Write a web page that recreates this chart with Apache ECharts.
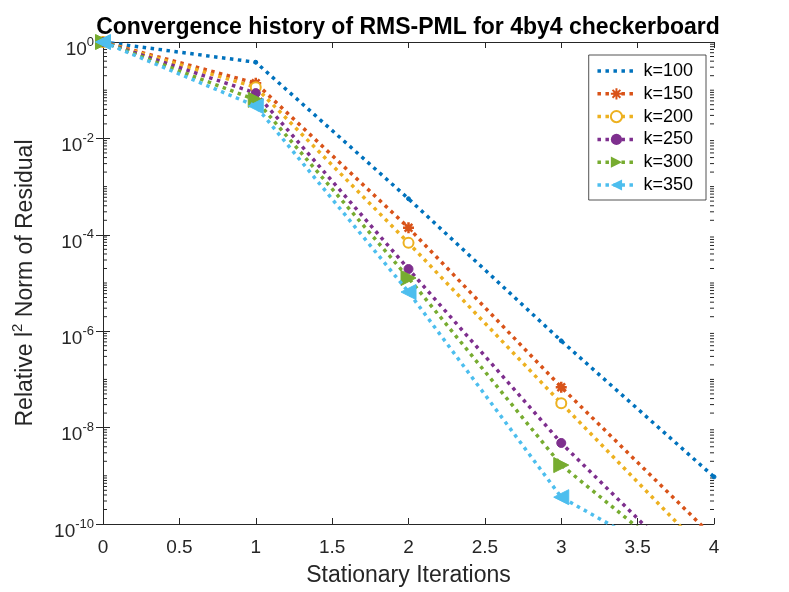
<!DOCTYPE html>
<html><head><meta charset="utf-8">
<script src="https://cdn.jsdelivr.net/npm/echarts@6/dist/echarts.min.js"></script>
<style>html,body{margin:0;padding:0;background:#fff}#c{width:789px;height:592px}</style>
</head><body><div id="c"></div>
<script>
const iterations = [0, 1, 2, 3, 4];
const xTicks = [0, 0.5, 1, 1.5, 2, 2.5, 3, 3.5, 4];
const yTickExponents = [0, -2, -4, -6, -8, -10];
const seriesNames = ['k=100', 'k=150', 'k=200', 'k=250', 'k=300', 'k=350'];
const k100 = [1, 0.38, 5.6e-4, 6.3e-7, 9.5e-10];
const k150 = [1, 0.14, 1.4e-4, 6.9e-8, 5.2e-11];
const k200 = [1, 0.115, 6.8e-5, 3.2e-8, 1.7e-11];
const k250 = [1, 0.087, 1.95e-5, 4.8e-9, 3.5e-12];
const k300 = [1, 0.063, 1.27e-5, 1.67e-9, 4.3e-12];
const k350 = [1, 0.047, 6.5e-6, 3.6e-10, 6e-12];
const colors = ['#0072BD', '#D95319', '#EDB120', '#7E2F8E', '#77AC30', '#4DBEEE'];

const axisColor = '#262626';
const font = 'Liberation Sans, Arial, sans-serif';
const asterisk = 'path://M0,-10L0,10M-10,0L10,0M-7,-7L7,7M-7,7L7,-7';

const dataSets = [k100, k150, k200, k250, k300, k350];
const symbols = [
  {symbol: 'circle', symbolSize: 4, symbolRotate: 0},
  {symbol: asterisk, symbolSize: 11, symbolRotate: 0, itemStyle: {borderWidth: 2.5}},
  {symbol: 'emptyCircle', symbolSize: 10, symbolRotate: 0, itemStyle: {borderWidth: 3}},
  {symbol: 'circle', symbolSize: 9, symbolRotate: 0},
  {symbol: 'triangle', symbolSize: 15, symbolRotate: -90},
  {symbol: 'triangle', symbolSize: 15, symbolRotate: 90}
];

// log minor tick values (between the labelled decades)
const minorVals = [];
for (let d = -10; d < 0; d++) {
  for (let m = 1; m <= 9; m++) {
    if (m === 1 && (d % 2 === 0)) continue;
    minorVals.push([0, m * Math.pow(10, d)]);
  }
}

const lineSeries = dataSets.map((arr, i) => {
  const s = symbols[i];
  return {
    name: seriesNames[i],
    type: 'line',
    data: iterations.map((x, j) => [x, arr[j]]),
    symbol: s.symbol,
    symbolSize: s.symbolSize,
    symbolRotate: s.symbolRotate,
    showAllSymbol: true,
    clip: true,
    color: colors[i],
    lineStyle: {color: colors[i], width: 3.5, type: [3.5, 4.5]},
    itemStyle: Object.assign({color: colors[i], borderColor: colors[i]}, s.itemStyle || {}),
    z: 3 + i
  };
});

const supFmt = v => {
  const e = Math.round(Math.log10(v));
  return '{b|10}{s|' + e + '}';
};
const supRich = {
  b: {fontSize: 19, color: axisColor, fontFamily: font, verticalAlign: 'bottom', lineHeight: 19},
  s: {fontSize: 13, color: axisColor, fontFamily: font, verticalAlign: 'top', lineHeight: 34, padding: [10.5, 0, 0, 0]}
};

const legendData = seriesNames.map((n, i) => i === 0 ? {name: n, itemStyle: {opacity: 0}} : {name: n});

const chart = echarts.init(document.getElementById('c'));
chart.setOption({
  animation: false,
  backgroundColor: '#fff',
  title: {
    text: 'Convergence history of RMS-PML for 4by4 checkerboard',
    left: 408, top: 16, textAlign: 'center', padding: 0,
    textStyle: {fontSize: 23, fontWeight: 'bold', color: '#000', fontFamily: font}
  },
  legend: {
    right: 83, top: 55, orient: 'vertical',
    data: legendData,
    backgroundColor: '#fff', borderColor: axisColor, borderWidth: 0.8,
    padding: [7, 13, 6, 7], itemGap: 4.8, itemWidth: 38, itemHeight: 14,
    lineStyle: {width: 3.5, type: [3.5, 4.5]},
    textStyle: {fontSize: 18, color: '#000', fontFamily: font, padding: [0, 0, 0, 3]}
  },
  grid: {left: 103, right: 75, top: 42, bottom: 68, containLabel: false},
  xAxis: [{
    type: 'value', min: 0, max: 4, interval: 0.5,
    name: 'Stationary Iterations', nameLocation: 'middle', nameGap: 40,
    nameTextStyle: {fontSize: 23, color: axisColor, fontFamily: font},
    axisLine: {show: true, lineStyle: {color: axisColor, width: 1}},
    axisTick: {show: true, inside: true, length: 6, lineStyle: {color: axisColor}},
    axisLabel: {fontSize: 19, color: axisColor, fontFamily: font, margin: 14,
      formatter: v => String(v)},
    splitLine: {show: false}
  }, {
    type: 'value', min: 0, max: 4, interval: 0.5, position: 'top',
    axisLine: {show: true, lineStyle: {color: axisColor, width: 1}},
    axisTick: {show: true, inside: true, length: 6, lineStyle: {color: axisColor}},
    axisLabel: {show: false}, splitLine: {show: false}
  }],
  yAxis: [{
    type: 'log', logBase: 10, min: 1e-10, max: 1, interval: 2,
    name: '{n|Relative l}{s|2}{n| Norm of Residual}', nameLocation: 'middle', nameGap: 66,
    nameTextStyle: {fontSize: 23, color: axisColor, fontFamily: font,
      rich: {
        n: {fontSize: 23, color: axisColor, fontFamily: font, verticalAlign: 'bottom', lineHeight: 23},
        s: {fontSize: 15, color: axisColor, fontFamily: font, verticalAlign: 'top', lineHeight: 27}
      }},
    axisLine: {show: true, lineStyle: {color: axisColor, width: 1}},
    axisTick: {show: true, inside: true, length: 7, lineStyle: {color: axisColor}},
    axisLabel: {color: axisColor, fontFamily: font, margin: 9,
      formatter: supFmt, rich: supRich},
    splitLine: {show: false}
  }, {
    type: 'log', logBase: 10, min: 1e-10, max: 1, interval: 2, position: 'right',
    axisLine: {show: true, lineStyle: {color: axisColor, width: 1}},
    axisTick: {show: true, inside: true, length: 7, lineStyle: {color: axisColor}},
    axisLabel: {show: false}, splitLine: {show: false}
  }],
  series: lineSeries.concat([{
    type: 'custom',
    silent: true,
    data: minorVals,
    clip: false,
    z: 1,
    renderItem: (params, api) => {
      const cs = params.coordSys;
      const y = api.coord([0, api.value(1)])[1];
      const len = 4;
      const st = {stroke: axisColor, lineWidth: 1};
      return {type: 'group', children: [
        {type: 'line', shape: {x1: cs.x, y1: y, x2: cs.x + len, y2: y}, style: st},
        {type: 'line', shape: {x1: cs.x + cs.width - len, y1: y, x2: cs.x + cs.width, y2: y}, style: st}
      ]};
    }
  }])
});
</script>
</body></html>
